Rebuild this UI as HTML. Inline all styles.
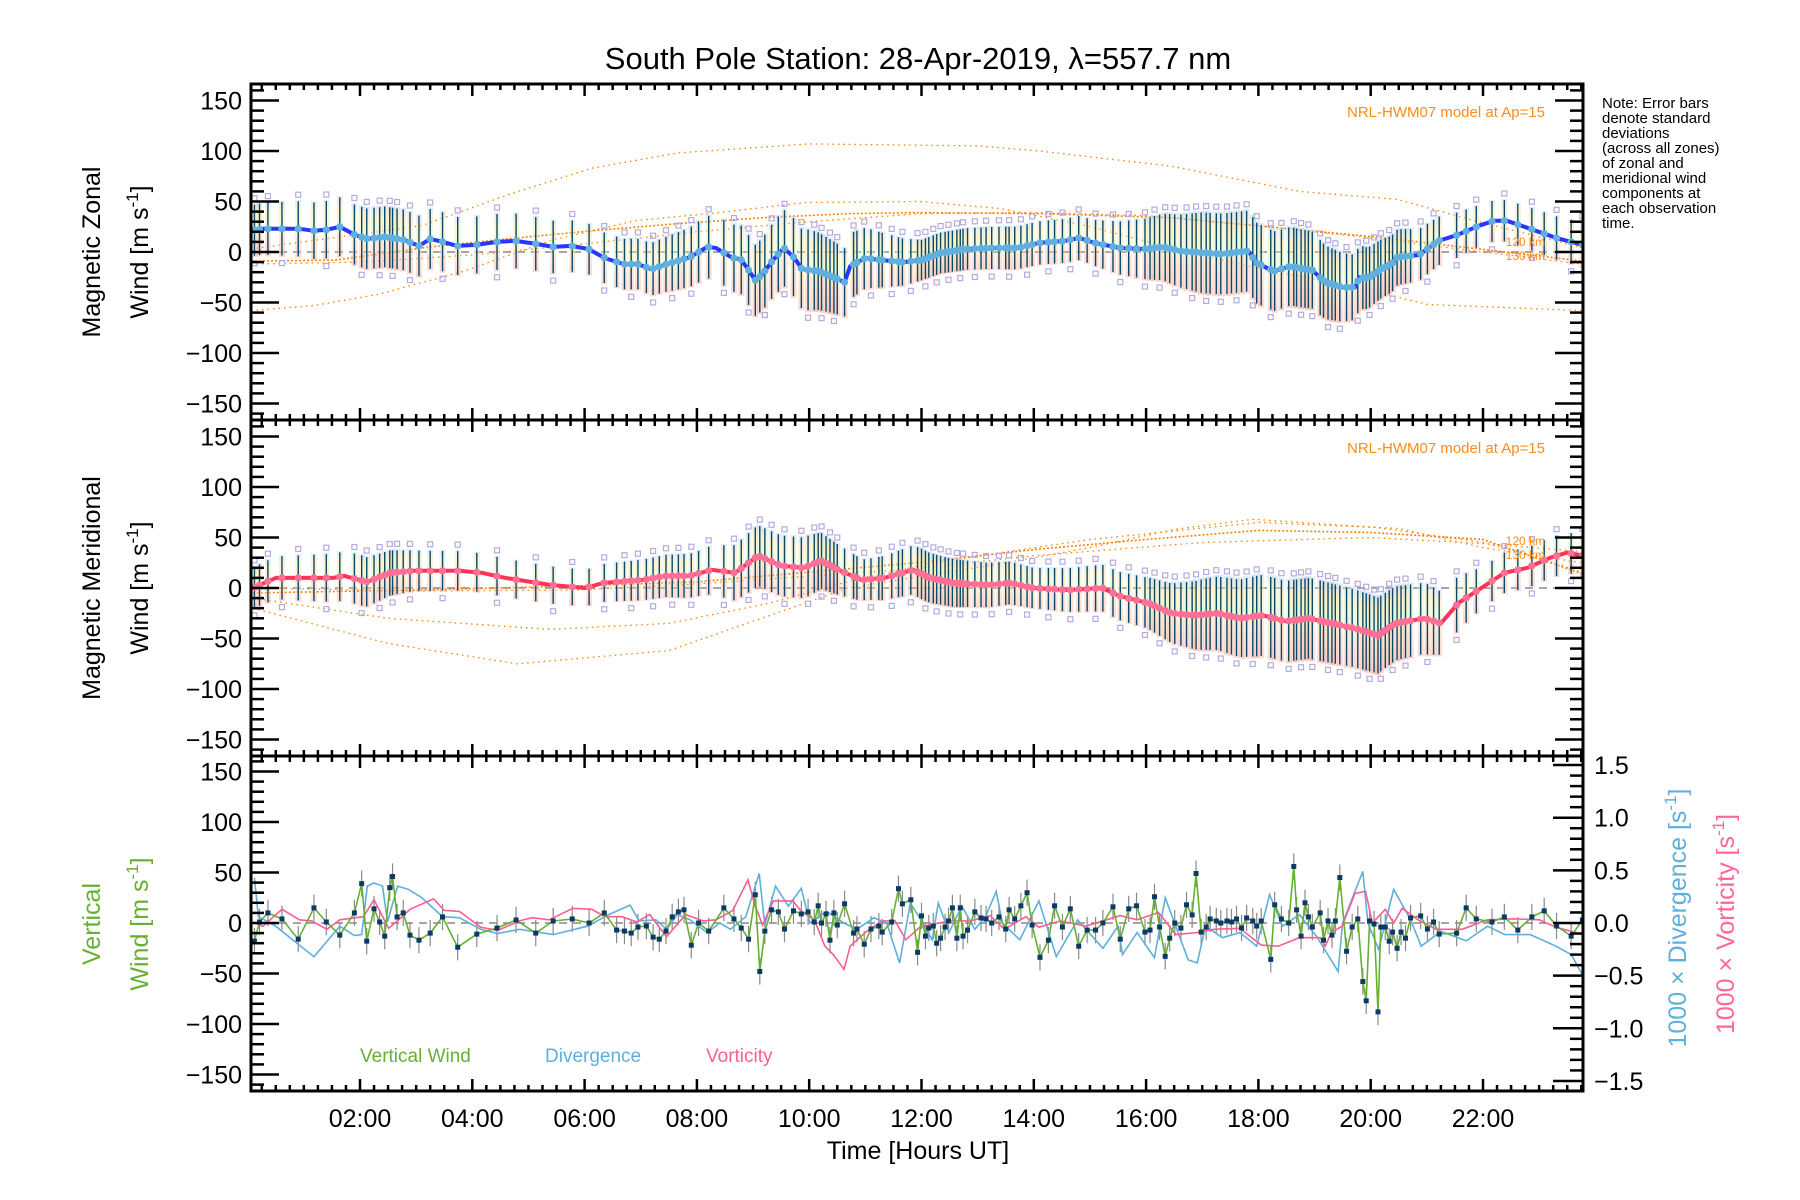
<!DOCTYPE html>
<html><head><meta charset="utf-8"><style>
html,body{margin:0;padding:0;background:#fff;}
svg{display:block;font-family:"Liberation Sans",sans-serif;}
</style></head><body>
<svg id="chart" width="1800" height="1200" viewBox="0 0 1800 1200" xmlns="http://www.w3.org/2000/svg">
<rect x="0" y="0" width="1800" height="1200" fill="#fff"/>
<text x="918" y="69" font-size="31" text-anchor="middle" fill="#000">South Pole Station: 28-Apr-2019, λ=557.7 nm</text>
<g id="layer"></g>
<g font-size="15" fill="#000">
<text x="1602" y="108">Note: Error bars</text>
<text x="1602" y="123">denote standard</text>
<text x="1602" y="138">deviations</text>
<text x="1602" y="153">(across all zones)</text>
<text x="1602" y="168">of zonal and</text>
<text x="1602" y="183">meridional wind</text>
<text x="1602" y="198">components at</text>
<text x="1602" y="213">each observation</text>
<text x="1602" y="228">time.</text>
</g>
<text transform="translate(100,252) rotate(-90)" font-size="25" text-anchor="middle">Magnetic Zonal</text>
<text transform="translate(148,252) rotate(-90)" font-size="25" text-anchor="middle">Wind [m s<tspan font-size="17" dy="-10">-1</tspan><tspan dy="10">]</tspan></text>
<text transform="translate(100,588) rotate(-90)" font-size="25" text-anchor="middle">Magnetic Meridional</text>
<text transform="translate(148,588) rotate(-90)" font-size="25" text-anchor="middle">Wind [m s<tspan font-size="17" dy="-10">-1</tspan><tspan dy="10">]</tspan></text>
<text transform="translate(100,924) rotate(-90)" font-size="25" text-anchor="middle" fill="#66b032">Vertical</text>
<text transform="translate(148,924) rotate(-90)" font-size="25" text-anchor="middle" fill="#66b032">Wind [m s<tspan font-size="17" dy="-10">-1</tspan><tspan dy="10">]</tspan></text>
<text transform="translate(1686,918) rotate(-90)" font-size="25" text-anchor="middle" fill="#5eb0dc">1000 × Divergence [s<tspan font-size="17" dy="-10">-1</tspan><tspan dy="10">]</tspan></text>
<text transform="translate(1734,924) rotate(-90)" font-size="25" text-anchor="middle" fill="#ff6699">1000 × Vorticity [s<tspan font-size="17" dy="-10">-1</tspan><tspan dy="10">]</tspan></text>
<text x="918" y="1159" font-size="25" text-anchor="middle">Time [Hours UT]</text>
<text x="1545" y="117" font-size="15" text-anchor="end" fill="#ff8c1a">NRL-HWM07 model at Ap=15</text>
<text x="1545" y="453" font-size="15" text-anchor="end" fill="#ff8c1a">NRL-HWM07 model at Ap=15</text>
<text x="1545" y="246" font-size="12" text-anchor="end" fill="#ff8c1a">120 km</text>
<text x="1545" y="260" font-size="12" text-anchor="end" fill="#ff8c1a">130 km</text>
<text x="1545" y="545" font-size="12" text-anchor="end" fill="#ff8c1a">120 km</text>
<text x="1545" y="559" font-size="12" text-anchor="end" fill="#ff8c1a">130 km</text>
<text x="360" y="1062" font-size="19" fill="#66b032">Vertical Wind</text>
<text x="545" y="1062" font-size="19" fill="#5eb0dc">Divergence</text>
<text x="706" y="1062" font-size="19" fill="#ff5c93">Vorticity</text>
</svg>
<script>
// ---- data ----
const vwT=[0.12,0.21,0.36,0.61,0.90,1.18,1.40,1.64,1.90,2.03,2.12,2.25,2.35,2.44,2.53,2.58,2.66,2.77,2.89,3.05,3.25,3.47,3.74,4.08,4.44,4.78,5.13,5.44,5.78,6.08,6.35,6.57,6.71,6.83,6.95,7.10,7.22,7.33,7.45,7.56,7.67,7.77,7.90,8.03,8.21,8.48,8.66,8.79,8.92,9.04,9.12,9.21,9.33,9.45,9.56,9.72,9.86,9.98,10.09,10.16,10.22,10.30,10.37,10.44,10.50,10.63,10.79,10.85,10.98,11.10,11.24,11.30,11.47,11.59,11.66,11.81,11.93,12.00,12.07,12.13,12.21,12.27,12.34,12.42,12.48,12.55,12.63,12.69,12.74,12.82,12.95,13.06,13.15,13.25,13.38,13.50,13.56,13.66,13.77,13.88,13.97,14.11,14.26,14.37,14.51,14.65,14.80,14.95,15.10,15.23,15.41,15.54,15.69,15.83,15.98,16.07,16.15,16.24,16.34,16.42,16.51,16.62,16.72,16.82,16.89,16.98,17.07,17.14,17.25,17.33,17.44,17.52,17.61,17.70,17.79,17.90,17.97,18.05,18.22,18.29,18.41,18.54,18.63,18.68,18.76,18.83,18.89,18.96,19.10,19.16,19.24,19.31,19.37,19.45,19.57,19.67,19.77,19.86,19.92,19.98,20.06,20.13,20.18,20.26,20.33,20.39,20.47,20.54,20.62,20.71,20.89,21.01,21.12,21.22,21.53,21.70,21.88,22.16,22.38,22.62,22.87,23.09,23.31,23.57,23.77];
const vwV=[-18,1,10,4,-16,15,1,-12,10,39,-18,14,1,-13,35,46,6,10,-12,-17,-10,6,-24,-11,-5,3,-10,2,4,0,10,-7,-8,-10,-4,-3,-14,-16,-8,6,11,13,-22,0,-8,15,4,-5,-16,28,-48,-8,13,11,-6,12,9,11,1,17,0,9,-17,10,-2,19,-10,-6,-21,-6,-3,-9,1,34,19,23,-29,7,-13,-5,-3,-20,-15,-4,2,15,-15,15,-13,-7,11,5,4,0,6,-6,13,4,17,30,-2,-34,-17,17,-4,14,-23,-7,-7,0,16,-16,14,17,-9,-7,26,-4,-33,-15,0,-5,18,8,49,-9,-4,4,2,0,2,1,4,-5,5,2,-3,2,-36,18,4,0,56,13,-13,20,6,-4,10,-17,2,-12,2,45,-28,-4,4,-58,-77,2,-1,-88,-4,-4,-18,-9,-25,-9,-15,5,7,-6,1,-11,-10,15,4,1,6,-7,6,12,-3,-13,3];
const divT=[0.12,0.19,0.5,0.8,1.18,1.64,1.9,2.03,2.13,2.25,2.4,2.49,2.67,2.86,3.1,3.47,3.77,4.15,4.45,4.84,5.44,6.05,6.43,6.81,6.97,7.27,7.46,7.65,7.88,8.18,8.41,8.6,8.87,9.11,9.21,9.4,9.63,9.86,10.01,10.31,10.62,10.85,11.15,11.38,11.61,11.8,12.0,12.19,12.3,12.49,12.72,12.95,13.14,13.33,13.44,13.75,14.09,14.4,14.78,15.23,15.5,15.58,15.84,16.15,16.34,16.75,16.91,17.06,17.36,17.67,17.97,18.2,18.43,18.73,19.04,19.42,19.5,19.86,19.95,20.14,20.41,20.71,20.9,21.25,21.7,22.08,22.39,22.84,23.3,23.57,23.78];
const divV=[0.43,0.06,-0.03,-0.16,-0.32,-0.03,-0.12,-0.11,0.35,0.38,0.35,0.01,0.35,0.32,0.24,0.06,0.05,-0.06,-0.1,-0.06,-0.11,-0.03,0.08,0.17,0.02,0.03,-0.06,0.08,0.03,-0.09,0,-0.06,0.06,0.47,-0.02,0.35,0.16,0.33,0,0.11,0,-0.06,0.05,0,-0.38,0.19,0.02,-0.16,0.19,-0.09,0.16,-0.06,0.06,0.3,0,-0.16,0.21,-0.32,0.03,-0.24,-0.03,-0.3,-0.09,-0.33,0.24,-0.35,-0.38,-0.03,-0.14,-0.09,-0.22,0.27,-0.03,0.08,-0.13,-0.46,0,0.49,0,-0.25,0.32,0.03,-0.22,-0.08,-0.17,-0.03,-0.11,-0.11,-0.22,-0.3,-0.5];
const vorT=[0.12,0.27,0.61,0.92,1.14,1.41,1.64,2.06,2.25,2.51,2.67,2.89,3.31,3.5,3.77,4.15,4.45,4.84,5.06,5.37,5.79,6.13,6.36,6.66,6.93,7.16,7.46,7.8,8.11,8.34,8.64,8.91,9.02,9.17,9.36,9.71,9.86,10.09,10.28,10.43,10.62,10.73,11.0,11.3,11.53,11.72,11.97,12.49,12.87,13.22,13.48,13.86,14.09,14.47,14.93,15.54,15.84,16.22,16.53,16.91,17.21,17.67,18.05,18.35,18.73,19.1,19.19,19.3,19.49,19.72,19.91,20.03,20.26,20.41,20.56,20.87,21.17,21.63,22.08,22.54,23.0,23.3,23.78];
const vorV=[0,-0.03,0.13,0.03,0.02,-0.06,0.03,0.06,0.22,-0.05,0.02,0.13,0.23,0.12,0.11,-0.04,-0.07,0.02,0.05,0.03,0.14,0.13,0.06,0.06,0.01,0.08,-0.13,0.08,0.02,0.03,0.12,0.41,0.19,-0.02,0.21,0.21,0.11,0.03,-0.22,-0.3,-0.44,-0.22,-0.09,0.02,0.02,-0.16,-0.04,0.02,0.02,0.07,-0.06,0.06,-0.04,0.02,-0.03,0.07,0.03,0.1,-0.11,-0.09,-0.06,-0.05,-0.21,-0.22,-0.14,-0.14,-0.22,-0.09,-0.03,0.28,0.3,0,0.13,0,0.14,0.02,-0.06,-0.06,0.03,0.04,0.03,-0.04,-0.11];
const zonT=[0.06,0.27,0.92,1.18,1.4,1.64,1.91,2.13,2.44,2.78,3.05,3.25,3.48,3.73,4.07,4.44,4.77,5.14,5.44,5.76,6.07,6.36,6.7,6.95,7.19,7.46,7.65,7.88,8.18,8.34,8.64,8.78,8.91,9.04,9.17,9.34,9.55,9.74,9.87,10.16,10.39,10.63,10.73,11.0,11.3,11.68,12.0,12.34,12.8,13.25,13.71,14.09,14.55,14.81,15.08,15.54,15.99,16.3,16.6,17.06,17.36,17.82,17.97,18.28,18.58,18.73,18.96,19.19,19.5,19.72,19.8,19.95,20.18,20.37,20.48,20.86,21.21,21.55,21.93,22.2,22.42,22.84,23.3,23.78];
const zonV=[21,23,23,21,22,25,17,13,15,12,6,13,10,6,7,10,11,8,5,6,3,-6,-12,-12,-17,-12,-9,-5,5,4,-6,-7,-17,-28,-22,-9,4,-6,-17,-19,-24,-30,-14,-6,-8,-10,-8,-1,3,4,4,9,11,14,9,4,3,5,1,-1,-2,1,-11,-19,-14,-16,-18,-30,-35,-35,-25,-26,-17,-12,-5,-3,11,17,26,31,31,23,14,7];
const merT=[0.09,0.5,1.52,1.72,2.13,2.54,2.95,3.77,4.18,4.59,5.4,6.02,6.32,7.04,7.45,7.86,8.27,8.68,9.09,9.5,9.9,10.21,10.52,10.93,11.34,11.85,12.15,12.56,13.18,13.58,13.99,14.61,15.22,15.53,16.04,16.45,16.86,17.27,17.67,18.08,18.49,18.9,19.31,19.72,20.13,20.44,20.95,21.25,21.56,21.97,22.38,22.79,23.2,23.5,23.78];
const merV=[0,10,10,12,6,15,17,17,15,10,3,0,5,8,12,12,18,15,32,22,20,27,18,8,10,18,10,5,3,5,0,-2,0,-8,-15,-25,-27,-25,-30,-27,-33,-30,-35,-40,-47,-35,-30,-35,-15,0,15,20,30,35,32];
const zSdT=[0,2,3,6,7,9,10,11,12,15,16,17,18,19,20,21,22,23.8];
const zSdV=[25,30,30,25,25,35,40,30,20,22,30,40,40,38,30,25,20,22];
const mSdT=[0,2,3,6,8,9,10,11,12,14,16,17,18,19,20,21,22,23.8];
const mSdV=[20,25,20,18,22,30,30,20,25,20,25,35,40,40,38,35,20,20];
const zModT=[[0.06,3.1,4.76,6.13,7.65,10,13,14.1,16.45,18.73,20.48,21.78,23.78],[0.06,1.18,2.32,3.85,5.37,6.89,8.41,9.93,11.97,13.41,14.93,16.45,17.97,19.5,21.02,23.78],[0.06,1.56,3.1,4.61,6.13,7.65,9.17,10.7,11.97,14.17,16.45,18.73,20.26,21.78,23.78],[0.06,2,4,6,8,10,12,14,16,18,20,22,23.78]];
const zModV=[[3,26,59,83,98,107,105,100,85,60,52,32,4],[-58,-53,-42,-19,11,31,39,49,50,43,26,4,-16,-32,-52,-58],[-9,-8,4,13,21,28,34,38,39,38,34,22,14,4,-9],[-12,-10,-3,8,20,30,38,39,36,26,14,0,-12]];
const mModT=[[0.09,2.5,4.8,7.5,10.7,13.5,15,16.5,17.9,20.1,22.0,23.0,23.78],[0.09,2.5,5.4,7.5,9.3,10.8,12.2,15,18,20.5,22,23.78],[0.09,3,5.8,8,11.9,14,16,18,20,22,23.78],[0.09,3,5.8,8,11.9,14,17,20,22,23.78]];
const mModV=[[-20,-55,-75,-62,0,25,40,58,68,60,45,30,15],[-10,-30,-41,-35,-15,8,25,48,65,59,40,25],[-5,-2,2,6,25,38,48,57,55,48,14],[0,-3,-2,4,19,32,45,50,44,36]];
const yTicks=[150,100,50,0,-50,-100,-150];
const rTicks=[1.5,1.0,0.5,0.0,-0.5,-1.0,-1.5];
const xTickHours=[2,4,6,8,10,12,14,16,18,20,22];
const xTickLabels=["02:00","04:00","06:00","08:00","10:00","12:00","14:00","16:00","18:00","20:00","22:00"];

// ---- geometry ----
const NS="http://www.w3.org/2000/svg";
const X0=251,X1=1583;
const xs=h=>247.7+56.15*h;
const panels=[{top:84,bot:420,zero:252},{top:420,bot:756,zero:588},{top:756,bot:1091,zero:923}];
const ys=(p,v)=>panels[p].zero-v*1.01;
const yr=v=>923-v*105.3;
const layer=document.getElementById('layer');
function mk(tag,attrs,parent){const e=document.createElementNS(NS,tag);for(const k in attrs)e.setAttribute(k,attrs[k]);(parent||layer).appendChild(e);return e;}
function interp(T,V,h){if(h<=T[0])return V[0];for(let i=1;i<T.length;i++){if(h<=T[i]){const f=(h-T[i-1])/(T[i]-T[i-1]);return V[i-1]+f*(V[i]-V[i-1]);}}return V[V.length-1];}
function pts(T,V,fy){return T.map((t,i)=>xs(t).toFixed(1)+','+fy(V[i]).toFixed(1)).join(' ');}

const defs=mk('defs',{});
const grad=mk('linearGradient',{id:'pastel',x1:'0',y1:'0',x2:'0',y2:'1'},defs);
[['0','#bcd8f4'],['0.2','#fbe7a6'],['0.45','#d9f5c0'],['0.6','#fbd6b4'],['1','#f7b2a6']].forEach(s=>mk('stop',{offset:s[0],'stop-color':s[1]},grad));
const clips=panels.map((p,i)=>{const c=mk('clipPath',{id:'clip'+i},defs);mk('rect',{x:X0,y:p.top,width:X1-X0,height:p.bot-p.top},c);return 'url(#clip'+i+')';});

// ---- panels 1 & 2 wind ----
function windPanel(p,mT,mV,sdT,sdV,modT,modV,lineCol,dotCol,name){
  const g=mk('g',{'clip-path':clips[p]});
  
  
  mk('line',{x1:X0,x2:X1,y1:panels[p].zero,y2:panels[p].zero,stroke:'#888','stroke-width':1.5,'stroke-dasharray':'8,6'},g);
  modT.forEach((T,k)=>{const m=mk('polyline',{points:pts(T,modV[k],v=>ys(p,v)),fill:'none',stroke:'#ff8000','stroke-width':k==2?1.6:1.3,'stroke-dasharray':k==2?'2,2':'1.5,4'},g);
    
    });
  vwT.forEach((t,i)=>{const c=interp(mT,mV,t),sd=interp(sdT,sdV,t);
    const r=mk('rect',{x:xs(t)-3,y:ys(p,c+sd*1.05),width:6,height:sd*2.1*1.01,fill:'url(#pastel)',opacity:0.5},g);
    
    });
  vwT.forEach((t,i)=>{const c=interp(mT,mV,t),sd=interp(sdT,sdV,t);
    if(i%2==0){mk('rect',{x:xs(t)-2.5,y:ys(p,c+sd)-9,width:5,height:5,fill:'none',stroke:'#b4aae0','stroke-width':1.2},g);}
    if(i%3==0){mk('rect',{x:xs(t)-2.5,y:ys(p,c-sd)+5,width:5,height:5,fill:'none',stroke:'#b4aae0','stroke-width':1.2},g);}
    const e=mk('line',{x1:xs(t),x2:xs(t),y1:ys(p,c+sd),y2:ys(p,c-sd),stroke:'#0b4766','stroke-width':1.4},g);
    
    });
  const l=mk('polyline',{points:pts(mT,mV,v=>ys(p,v)),fill:'none',stroke:lineCol,'stroke-width':4,'stroke-linejoin':'round'},g);
  
  
  vwT.forEach(t=>{mk('circle',{cx:xs(t),cy:ys(p,interp(mT,mV,t)),r:3.6,fill:dotCol},g);});
}
windPanel(0,zonT,zonV,zSdT,zSdV,zModT,zModV,'#2a35ff','#5fb0de','zonal');
windPanel(1,merT,merV,mSdT,mSdV,mModT,mModV,'#ff3355','#ff6f96','meridional');

// ---- panel 3 ----
(function(){
  const g=mk('g',{'clip-path':clips[2]});
  
  
  mk('line',{x1:X0,x2:X1,y1:923,y2:923,stroke:'#888','stroke-width':1.5,'stroke-dasharray':'8,6'},g);
  vwT.forEach((t,i)=>{const e=mk('line',{x1:xs(t),x2:xs(t),y1:ys(2,vwV[i]+13),y2:ys(2,vwV[i]-13),stroke:'#8a8a8a','stroke-width':1.2},g);
    
    });
  const d=mk('polyline',{points:pts(divT,divV,yr),fill:'none',stroke:'#5eb0dc','stroke-width':1.6},g);
  
  
  const v=mk('polyline',{points:pts(vorT,vorV,yr),fill:'none',stroke:'#ff5c93','stroke-width':1.6},g);
  
  
  const w=mk('polyline',{points:pts(vwT,vwV,x=>ys(2,x)),fill:'none',stroke:'#66b032','stroke-width':1.6},g);
  
  
  vwT.forEach((t,i)=>{const m=mk('rect',{x:xs(t)-2.5,y:ys(2,vwV[i])-2.5,width:5,height:5,fill:'#0b3a66'},g);
    
    });
})();

// ---- axes ----
panels.forEach((P,p)=>{
  const ax=mk('g',{});
  
  
  for(let v=-160;v<=160;v+=10){const y=ys(p,v);if(y<P.top+1||y>P.bot-1)continue;const L=(v%50==0)?28:13;
    mk('line',{x1:X0,x2:X0+L,y1:y,y2:y,stroke:'#000','stroke-width':2.5},ax);
    if(p<2)mk('line',{x1:X1,x2:X1-L,y1:y,y2:y,stroke:'#000','stroke-width':2.5},ax);}
  if(p==2){for(let k=-16;k<=16;k++){const v=k/10;const y=yr(v);if(y<P.top+1||y>P.bot-1)continue;const L=(k%5==0)?30:13;
    mk('line',{x1:X1,x2:X1-L,y1:y,y2:y,stroke:'#000','stroke-width':2.5},ax);}}
  for(let q=1;q<96;q++){const h=q/4;const x=xs(h);if(x<=X0+1||x>=X1-1)continue;const L=(q%8==0)?12:6;
    mk('line',{x1:x,x2:x,y1:P.top,y2:P.top+L,stroke:'#000','stroke-width':2.5},ax);
    mk('line',{x1:x,x2:x,y1:P.bot,y2:P.bot-L,stroke:'#000','stroke-width':2.5},ax);}
  mk('rect',{x:X0,y:P.top,width:X1-X0,height:P.bot-P.top,fill:'none',stroke:'#000','stroke-width':3},ax);
  yTicks.forEach(v=>{const t=mk('text',{x:242,y:ys(p,v)+9,'font-size':25,'text-anchor':'end'},ax);t.textContent=(v<0?'−':'')+Math.abs(v);
    
    });
});
rTicks.forEach(v=>{const t=mk('text',{x:1594,y:yr(v)+9,'font-size':25},layer);t.textContent=(v<0?'−':'')+Math.abs(v).toFixed(1);
  
  });
xTickHours.forEach((h,i)=>{const t=mk('text',{x:xs(h),y:1127,'font-size':25,'text-anchor':'middle'},layer);t.textContent=xTickLabels[i];
  
  });
</script>
</body></html>
